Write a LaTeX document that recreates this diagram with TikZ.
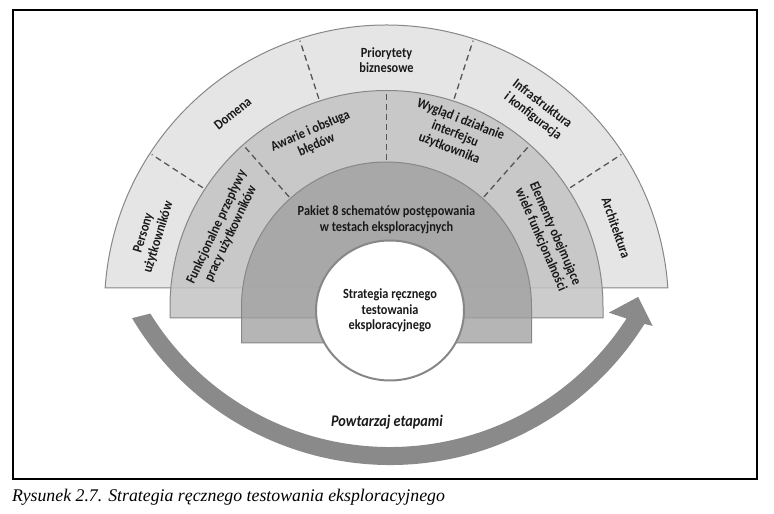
\documentclass[tikz,border=0pt]{standalone}
\usepackage{fontspec}
\usetikzlibrary{shapes.geometric, calc}
\newfontfamily\lblfont[FakeStretch=0.88]{Carlito}
\newfontfamily\capfont{Liberation Serif}
\definecolor{outerfill}{RGB}{229,229,229}
\definecolor{midfill}{RGB}{195,195,195}
\definecolor{innerfill}{RGB}{160,160,160}
\definecolor{ringline}{RGB}{135,135,135}
\definecolor{divline}{RGB}{85,85,85}
\definecolor{loopfill}{RGB}{138,138,138}
\definecolor{labeltext}{RGB}{25,25,25}
\tikzset{
    ring/.style={draw=ringline, line width=1pt},
    outerring/.style={ring, fill=outerfill},
    midring/.style={ring, fill=midfill, fill opacity=0.85},
    innerring/.style={ring, fill=innerfill, fill opacity=0.78},
    divider/.style={draw=divline, line width=1.3pt, dash pattern=on 6pt off 4pt},
    ringlabel/.style={
        font=\lblfont\bfseries\fontsize{14}{15.5}\selectfont,
        align=center, text=labeltext, inner sep=0pt
    },
    hub/.style={
        ellipse, draw=ringline, line width=2pt, fill=white,
        minimum width=148pt, minimum height=140pt, inner sep=0pt
    }
}

\begin{document}
\begin{tikzpicture}[x=1pt, y=1pt]

\useasboundingbox (0,0) rectangle (774,514);

% Frame
\draw[line width=1.4pt] (13,35) rectangle (757,504);

\coordinate (c) at (386.5,207);

% Outer ring
\draw[outerring] ($(c)+(176.1:282)$) arc[start angle=176.1, end angle=3.9, radius=282] -- cycle;

% Middle ring
\draw[midring] ($(c)+(-216.5,-11)$) -- ($(c)+(180:216.5)$) arc[start angle=180, end angle=0, radius=216.5] -- ++(0,-11) -- cycle;

% Inner ring
\draw[innerring] ($(c)+(-145,-36)$) -- ($(c)+(180:145)$) arc[start angle=180, end angle=0, radius=145] -- ++(0,-36) -- cycle;

% Dividers
\foreach \a in {33,72,108,147}
    \draw[divider] ($(c)+(\a:219)$) -- ($(c)+(\a:280)$);
\foreach \a in {48.5,90,131.5}
    \draw[divider] ($(c)+(\a:147)$) -- ($(c)+(\a:214)$);

% Outer labels
\node[ringlabel, rotate=73] (persony) at ($(c)+(163:246)$) {Persony\\użytkowników};
\node[ringlabel, rotate=38.5] (domena) at ($(c)+(128.5:247)$) {Domena};
\node[ringlabel] (priorytety) at ($(c)+(90:247)$) {Priorytety\\biznesowe};
\node[ringlabel, rotate=-37.5] (infra) at ($(c)+(52.5:248)$) {Infrastruktura\\i konfiguracja};
\node[ringlabel, rotate=-71] (architektura) at ($(c)+(19:243)$) {Architektura};

% Middle labels
\node[ringlabel, rotate=64.7] (funkcje) at ($(c)+(154.7:180)$) {Funkcjonalne przepływy\\pracy użytkowników};
\node[ringlabel, rotate=23.4] (awarie) at ($(c)+(113.4:184)$) {Awarie i obsługa\\błędów};
\node[ringlabel, rotate=-21.6] (wyglad) at ($(c)+(68.4:186)$) {Wygląd i działanie\\interfejsu\\użytkownika};
\node[ringlabel, rotate=-66.5] (elementy) at ($(c)+(23.5:176)$) {Elementy obejmujące\\wiele funkcjonalności};

% Inner label
\node[ringlabel] (pakiet) at (386.5,294) {Pakiet 8 schematów postępowania\\w testach eksploracyjnych};

% Hub
\node[hub, ringlabel] (strategia) at (390,203.5) {Strategia ręcznego\\testowania\\eksploracyjnego};

% Loop arrow
\begin{scope}[shift={(390,349)}]
\fill[loopfill] (210.7:300) arc[start angle=210.7, end angle=328, radius=300]
    -- (328.5:308) -- (332:281) -- (326:264) -- (327:282)
    arc[start angle=327, end angle=211.8, radius=282] -- cycle;
\end{scope}
\node[font=\lblfont\bfseries\itshape\fontsize{16.2}{18}\selectfont, text=labeltext] (powtarzaj) at (387,92) {Powtarzaj etapami};

% Caption
\node[font=\capfont\itshape\fontsize{17.8}{19}\selectfont, anchor=west, inner sep=0pt] (caption) at (12,17) {Rysunek 2.7. Strategia ręcznego testowania eksploracyjnego};

\end{tikzpicture}
\end{document}
